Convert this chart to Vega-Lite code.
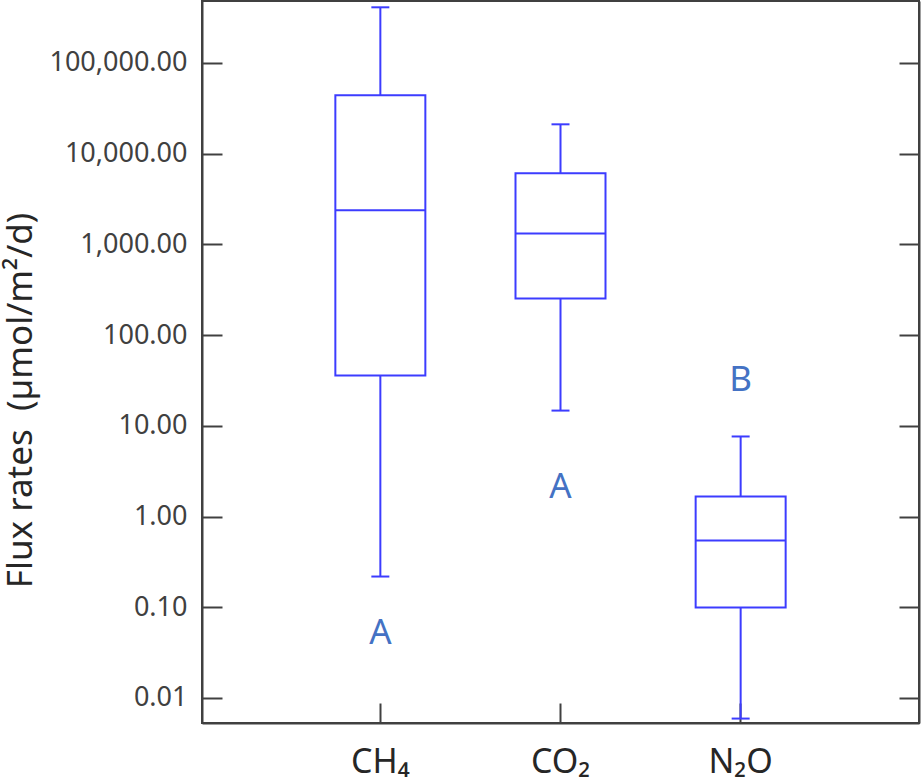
{
  "$schema": "https://vega.github.io/schema/vega-lite/v6.json",
  "autosize": "none",
  "width": 717,
  "height": 722,
  "padding": {"left": 202, "top": 1, "right": 2, "bottom": 61},
  "background": "white",
  "config": {
    "view": {"stroke": "#404040", "strokeWidth": 2},
    "font": "Noto Sans",
    "axis": {"domainColor": "#404040", "domainWidth": 2, "tickColor": "#404040", "tickWidth": 2, "labelColor": "#404040", "titleColor": "#262626", "grid": false}
  },
  "data": {
    "values": [
      {"gas": "CH₄", "min": 0.218, "q1": 35.9, "median": 2365, "q3": 43800, "max": 409000, "letter": "A", "letterPos": 0.055},
      {"gas": "CO₂", "min": 14.7, "q1": 253, "median": 1319, "q3": 6050, "max": 21000, "letter": "A", "letterPos": 2.23},
      {"gas": "N₂O", "min": 0.00593, "q1": 0.0993, "median": 0.544, "q3": 1.66, "max": 7.62, "letter": "B", "letterPos": 33.5}
    ]
  },
  "encoding": {
    "x": {
      "field": "gas", "type": "nominal", "sort": null,
      "scale": {"paddingInner": 0, "paddingOuter": 0.49},
      "axis": {"title": null, "labelAngle": 0, "labelFontSize": 34, "tickSize": -20, "labelPadding": 42, "labelColor": "#262626"}
    }
  },
  "layer": [
    {
      "mark": {"type": "rule", "color": "#3c3cff", "strokeWidth": 2},
      "encoding": {
        "y": {
          "field": "min", "type": "quantitative",
          "scale": {"type": "log", "domain": [0.0053, 480000], "nice": false, "zero": false},
          "axis": {
            "orient": "left", "values": [0.01, 0.1, 1, 10, 100, 1000, 10000, 100000],
            "format": ",.2f", "labelFontSize": 27, "tickSize": -20, "labelPadding": 35,
            "title": "Flux rates \u00a0(µmol/m²/d)", "titleFontSize": 35, "titleFontWeight": "normal",
            "titleAngle": -90, "titleAlign": "center", "titleBaseline": "alphabetic",
            "titleX": -171, "titleY": 399
          }
        },
        "y2": {"field": "max"}
      }
    },
    {
      "mark": {"type": "bar", "fill": "white", "stroke": "#3c3cff", "strokeWidth": 2, "width": 90},
      "encoding": {
        "y": {"field": "q1", "type": "quantitative", "axis": null},
        "y2": {"field": "q3"}
      }
    },
    {
      "mark": {"type": "tick", "color": "#3c3cff", "opacity": 1, "size": 90, "thickness": 2, "orient": "horizontal"},
      "encoding": {"y": {"field": "median", "type": "quantitative", "axis": null}}
    },
    {
      "mark": {"type": "tick", "color": "#3c3cff", "opacity": 1, "size": 18, "thickness": 2, "orient": "horizontal"},
      "encoding": {"y": {"field": "min", "type": "quantitative", "axis": null}}
    },
    {
      "mark": {"type": "tick", "color": "#3c3cff", "opacity": 1, "size": 18, "thickness": 2, "orient": "horizontal"},
      "encoding": {"y": {"field": "max", "type": "quantitative", "axis": null}}
    },
    {
      "mark": {"type": "text", "color": "#4472c4", "fontSize": 35, "baseline": "middle", "align": "center", "dy": 2},
      "encoding": {
        "y": {
          "field": "letterPos", "type": "quantitative",
          "axis": {"orient": "right", "values": [0.01, 0.1, 1, 10, 100, 1000, 10000, 100000], "labels": false, "tickSize": -20, "title": null}
        },
        "text": {"field": "letter"}
      }
    }
  ],
  "resolve": {"axis": {"y": "independent"}}
}
